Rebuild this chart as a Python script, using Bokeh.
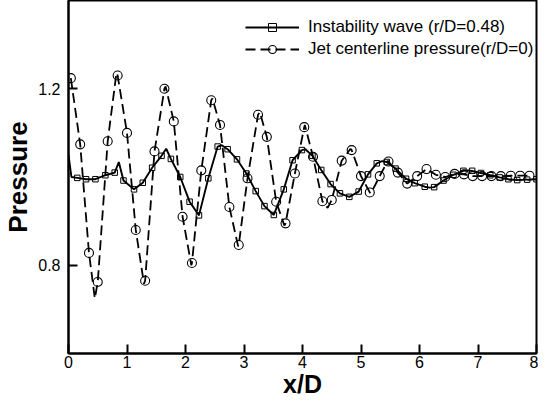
from bokeh.plotting import figure
from bokeh.models import Legend, LegendItem, FixedTicker, Range1d
from bokeh.embed import file_html
from bokeh.resources import INLINE

# ---------------- data ----------------
x_ticks = [0, 1, 2, 3, 4, 5, 6, 7, 8]
y_ticks = [0.8, 1.2]

# Instability wave (r/D=0.48): square markers
wave_x = [0.15, 0.30, 0.46, 0.63, 0.79, 0.94, 1.12, 1.27, 1.43, 1.59, 1.75, 1.91,
          2.07, 2.23, 2.39, 2.55, 2.72, 2.88, 3.04, 3.20, 3.35, 3.51, 3.68, 3.83,
          3.99, 4.17, 4.32, 4.48, 4.64, 4.80, 4.96, 5.12, 5.27, 5.44, 5.59, 5.77,
          5.92, 6.09, 6.25, 6.41, 6.58, 6.75, 6.90, 7.05, 7.21, 7.37, 7.52, 7.67,
          7.84, 8.00]
wave_y = [0.998, 0.995, 0.995, 1.004, 1.010, 0.992, 0.972, 0.987, 1.021, 1.048, 1.041, 1.000,
          0.944, 0.913, 0.997, 1.069, 1.063, 1.040, 1.008, 0.968, 0.934, 0.914, 0.972, 1.038,
          1.061, 1.048, 1.016, 0.984, 0.963, 0.955, 0.967, 1.006, 1.031, 1.034, 1.019, 0.996,
          0.986, 0.978, 0.977, 0.992, 1.005, 1.014, 1.014, 1.009, 1.004, 0.999, 0.995, 0.993,
          0.994, 0.995]
# extra points (start, peaks) that carry no marker
wave_curve_x = [0.00, 0.05, 0.86, 1.67, 2.62, 4.05, 5.36, 6.17, 6.83]
wave_curve_y = [1.050, 1.000, 1.034, 1.064, 1.072, 1.063, 1.036, 0.976, 1.015]

# Jet centerline pressure (r/D=0): circle markers
jet_x = [0.04, 0.20, 0.35, 0.50, 0.67, 0.84, 1.00, 1.15, 1.31, 1.47, 1.64, 1.80,
         1.95, 2.11, 2.27, 2.44, 2.59, 2.75, 2.91, 3.06, 3.24, 3.39, 3.55, 3.71,
         3.87, 4.03, 4.18, 4.34, 4.50, 4.67, 4.84, 5.00, 5.15, 5.32, 5.47, 5.63,
         5.79, 5.96, 6.12, 6.28, 6.44, 6.60, 6.76, 6.91, 7.07, 7.23, 7.39, 7.56,
         7.72, 7.88]
jet_y = [1.224, 1.074, 0.828, 0.762, 1.081, 1.230, 1.100, 0.880, 0.765, 1.058, 1.200, 1.126,
         0.910, 0.805, 1.015, 1.174, 1.118, 0.932, 0.846, 0.997, 1.141, 1.091, 0.944, 0.895,
         1.008, 1.113, 1.046, 0.945, 0.948, 1.037, 1.061, 1.002, 0.965, 1.002, 1.035, 1.010,
         0.985, 1.002, 1.018, 1.005, 1.000, 1.007, 1.006, 1.002, 1.002, 1.002, 1.002, 1.003,
         1.003, 1.003]
# extra points (extrema between markers)
jet_curve_x = [0.45, 0.82, 1.29, 1.66, 2.10, 2.46, 2.90, 3.27, 3.69, 4.04, 4.43, 4.82,
               5.17, 5.46]
jet_curve_y = [0.725, 1.236, 0.758, 1.205, 0.800, 1.178, 0.843, 1.147, 0.890, 1.118, 0.930, 1.064,
               0.963, 1.037]

wave_label = "Instability wave (r/D=0.48)"
jet_label = "Jet centerline pressure(r/D=0)"

# ---------------- build ----------------
def merged(xa, ya, xb, yb):
    pts = sorted(zip(list(xa) + list(xb), list(ya) + list(yb)))
    return [a for a, _ in pts], [b for _, b in pts]

wave_lx, wave_ly = merged(wave_x, wave_y, wave_curve_x, wave_curve_y)
jet_lx, jet_ly = merged(jet_x, jet_y, jet_curve_x, jet_curve_y)

W, H = 538, 400
MB_TOP, MB_BOTTOM = 0, 42
p = figure(width=W, height=H, x_range=Range1d(0, 8), y_range=Range1d(0.6, 1.4),
           output_backend="svg", toolbar_location=None,
           min_border_left=60, min_border_right=2,
           min_border_top=MB_TOP, min_border_bottom=MB_BOTTOM)
p.xgrid.visible = False
p.ygrid.visible = False
p.background_fill_color = "white"
p.border_fill_color = "white"
p.outline_line_color = "black"
p.outline_line_width = 2
p.outline_line_alpha = 1.0

FONT = "Liberation Sans"
for ax in (p.xaxis[0], p.yaxis[0]):
    ax.axis_line_color = "black"
    ax.axis_line_width = 2
    ax.major_tick_line_color = "black"
    ax.major_tick_line_width = 2
    ax.major_tick_in = 9
    ax.major_tick_out = 0
    ax.minor_tick_line_color = None
    ax.major_label_text_font = FONT
    ax.major_label_text_font_size = "16px"
    ax.major_label_text_color = "black"
    ax.axis_label_text_font = FONT
    ax.axis_label_text_font_style = "bold"
    ax.axis_label_text_color = "black"

p.xaxis[0].ticker = FixedTicker(ticks=x_ticks)
p.yaxis[0].ticker = FixedTicker(ticks=y_ticks)
p.xaxis[0].axis_label = "x/D"
p.yaxis[0].axis_label = "Pressure"
p.xaxis[0].axis_label_text_font_size = "25px"
p.yaxis[0].axis_label_text_font_size = "26px"
p.xaxis[0].major_label_standoff = 2
p.xaxis[0].axis_label_standoff = -1
p.yaxis[0].major_label_standoff = 8
p.yaxis[0].axis_label_standoff = 2

l1 = p.line(wave_lx, wave_ly, line_color="black", line_width=1.9)
s1 = p.scatter(wave_x, wave_y, marker="square", size=5.5, line_color="black",
               line_width=1, fill_color=None)
l2 = p.line(jet_lx, jet_ly, line_color="black", line_width=1.8, line_dash="10 5")
s2 = p.scatter(jet_x, jet_y, marker="circle", size=9, line_color="black",
               line_width=1.1, fill_color=None)

frame_h = H - MB_TOP - MB_BOTTOM
glyph_h, spacing = 20, 2
legend_h = 2 * glyph_h + spacing
legend = Legend(items=[LegendItem(label=wave_label, renderers=[l1, s1]),
                       LegendItem(label=jet_label, renderers=[l2, s2])],
                location=(177, frame_h - 22 - legend_h),
                glyph_width=54, glyph_height=glyph_h, label_height=glyph_h,
                spacing=spacing, padding=0, margin=0, label_standoff=9,
                label_text_font=FONT, label_text_font_size="17px",
                label_text_color="black",
                border_line_color=None, background_fill_alpha=0)
p.add_layout(legend)

open("out.html", "w").write(file_html(p, INLINE))
